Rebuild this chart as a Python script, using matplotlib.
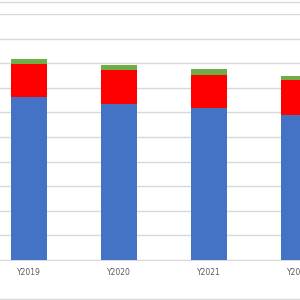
import matplotlib.pyplot as plt
import numpy as np
from matplotlib.lines import Line2D

# Values (gridline step = 100)
years = ["Y2019", "Y2020", "Y2021", "Y2022"]
blue_vals = [661, 633, 617, 589]
red_vals = [137, 141, 137, 141]
green_vals = [20, 20, 24, 20]

fig = plt.figure(figsize=(3, 3), dpi=100)
ax = fig.add_axes([0, 40 / 300, 1, 246 / 300])

x = np.arange(len(years))
width = 0.4
blue = np.array(blue_vals)
red = np.array(red_vals)
green = np.array(green_vals)

ax.bar(x, blue, width, color="#4472C4", zorder=3)
ax.bar(x, red, width, bottom=blue, color="#FF0000", zorder=3)
ax.bar(x, green, width, bottom=blue + red, color="#70AD47", zorder=3)

ax.set_xlim(-29 / 90, 271 / 90)
ax.set_ylim(0, 1000)
ax.set_yticks(np.arange(0, 1001, 100))
ax.yaxis.grid(True, color="#D9D9D9", linewidth=1, zorder=0)
ax.set_xticks(x)
ax.set_xticklabels(years, fontsize=5.5, color="#595959")
ax.tick_params(axis="x", length=0, pad=6)
ax.tick_params(axis="y", length=0, labelleft=False)
for side in ["top", "right", "left"]:
    ax.spines[side].set_visible(False)
ax.spines["bottom"].set_color("#D9D9D9")

# chart frame lines at top and bottom of the image
fig.add_artist(Line2D([0, 1], [1 - 1.5 / 300, 1 - 1.5 / 300], color="#D9D9D9", linewidth=1))
fig.add_artist(Line2D([0, 1], [1.5 / 300, 1.5 / 300], color="#D9D9D9", linewidth=1))

plt.savefig("out.png", dpi=100)
